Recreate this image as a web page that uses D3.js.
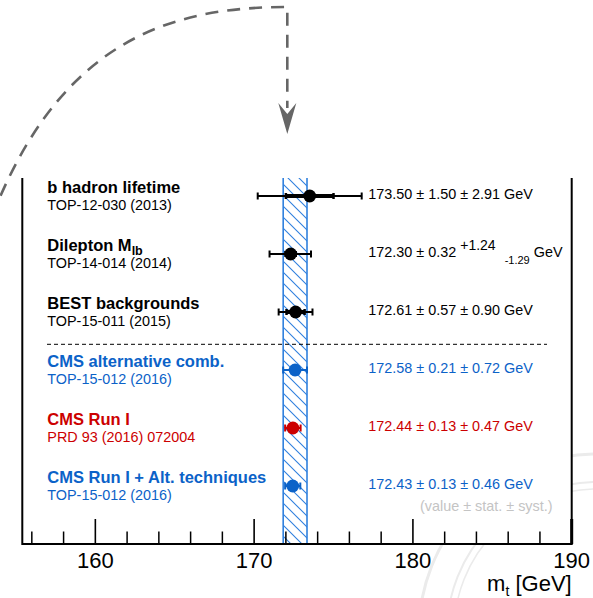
<!DOCTYPE html>
<html><head><meta charset="utf-8">
<script src="https://cdn.jsdelivr.net/npm/d3@7"></script>
<style>html,body{margin:0;padding:0;background:#fff;} svg{display:block;font-family:"Liberation Sans",Arial,Helvetica,sans-serif;}</style>
</head><body><svg id="c" width="593" height="598"></svg>
<script>
// ---- data ----
const titles = ["b hadron lifetime", "Dilepton M", "BEST backgrounds", "CMS alternative comb.", "CMS Run I", "CMS Run I + Alt. techniques"];
const titleSubs = ["", "lb", "", "", "", ""];
const refs = ["TOP-12-030 (2013)", "TOP-14-014 (2014)", "TOP-15-011 (2015)", "TOP-15-012 (2016)", "PRD 93 (2016) 072004", "TOP-15-012 (2016)"];
const values = [173.50, 172.30, 172.61, 172.58, 172.44, 172.43];
const statErr = [1.50, 0.32, 0.57, 0.21, 0.13, 0.13];
const systUp = [2.91, 1.24, 0.90, 0.72, 0.47, 0.46];
const systDown = [2.91, 1.29, 0.90, 0.72, 0.47, 0.46];
const rowGroup = ["other", "other", "other", "cmsAlt", "cmsRun1", "cmsAlt"];
const bandIndex = 3; // band = CMS alternative comb. total uncertainty
const xDomain = [155.4, 190];
const majorTicks = [160, 170, 180, 190];
const majorTickLabels = ["160", "170", "180", "190"];
const minorTicks = [156, 158, 162, 164, 166, 168, 172, 174, 176, 178, 182, 184, 186, 188];

(function () {
// ---- styles ----
const colorOf = {other: "#000000", cmsAlt: "#0b62c8", cmsRun1: "#cc0000"};
const bandColor = "#2f80de";

const svg = d3.select("#c");
const pL = 22.3, pR = 571.7, pT = 178, pB = 544;
const x = d3.scaleLinear().domain(xDomain).range([pL, pR]);
const y = d3.scalePoint().domain(d3.range(titles.length)).range([196, 486]);

// watermark seal (faint), hidden behind plot area
const wm = svg.append("g").attr("fill", "none").attr("stroke", "#ebebeb");
wm.append("circle").attr("cx", 597).attr("cy", 632).attr("r", 178).attr("stroke-width", 3);
wm.append("circle").attr("cx", 597).attr("cy", 632).attr("r", 150).attr("stroke-width", 2);
wm.append("circle").attr("cx", 597).attr("cy", 632).attr("r", 143).attr("stroke-width", 1.5);
svg.append("rect").attr("x", pL).attr("y", pT).attr("width", pR - pL).attr("height", pB - pT).attr("fill", "#fff");

// hatch pattern
const defs = svg.append("defs");
const pat = defs.append("pattern").attr("id", "hatch").attr("patternUnits", "userSpaceOnUse")
  .attr("width", 11).attr("height", 11);
pat.append("path").attr("d", "M0,0 L11,11 M-5.5,5.5 L5.5,16.5 M5.5,-5.5 L16.5,5.5")
  .attr("stroke", bandColor).attr("stroke-width", 1.1);

// band
const bTot = Math.sqrt(statErr[bandIndex] ** 2 + systUp[bandIndex] ** 2);
const bv = values[bandIndex];
svg.append("rect").attr("x", x(bv - bTot)).attr("y", pT)
  .attr("width", x(bv + bTot) - x(bv - bTot)).attr("height", pB - pT)
  .attr("fill", "url(#hatch)").attr("stroke", "none");
[bv - bTot, bv + bTot].forEach(e => svg.append("line").attr("x1", x(e)).attr("x2", x(e))
  .attr("y1", pT).attr("y2", pB).attr("stroke", bandColor).attr("stroke-width", 1.6));

// frame
svg.append("path").attr("d", `M${pL},${pT} L${pL},${pB} L${pR},${pB} L${pR},${pT}`)
  .attr("stroke", "#000").attr("stroke-width", 2).attr("fill", "none");

// ticks
svg.append("g").selectAll("line").data(majorTicks).join("line")
  .attr("x1", d => x(d)).attr("x2", d => x(d)).attr("y1", pB).attr("y2", pB - 25)
  .attr("stroke", "#000").attr("stroke-width", d => d === 190 ? 3 : 1.6);
svg.append("g").selectAll("line").data(minorTicks).join("line")
  .attr("x1", d => x(d)).attr("x2", d => x(d)).attr("y1", pB).attr("y2", pB - 12.5)
  .attr("stroke", "#000").attr("stroke-width", 1.5);
svg.append("g").selectAll("text").data(majorTicks).join("text")
  .attr("x", d => x(d)).attr("y", 567.5).attr("text-anchor", "middle")
  .attr("font-size", 22).attr("fill", "#000").text((d, i) => majorTickLabels[i]);

// axis title m_t [GeV]
const at = svg.append("text").attr("x", pR).attr("y", 591).attr("text-anchor", "end")
  .attr("font-size", 22).attr("fill", "#000");
at.append("tspan").text("m");
at.append("tspan").attr("font-size", 14).attr("dy", 5).text("t");
at.append("tspan").attr("dy", -5).text(" [GeV]");

// separator
svg.append("line").attr("x1", 47).attr("x2", 547).attr("y1", 344.3).attr("y2", 344.3)
  .attr("stroke", "#000").attr("stroke-width", 1).attr("stroke-dasharray", "4,3");

// rows
titles.forEach((t, i) => {
  const c = colorOf[rowGroup[i]];
  const yy = y(i);
  const v = values[i];
  const totUp = Math.sqrt(statErr[i] ** 2 + systUp[i] ** 2);
  const totDn = Math.sqrt(statErr[i] ** 2 + systDown[i] ** 2);
  const g = svg.append("g");
  g.append("line").attr("x1", x(v - totDn)).attr("x2", x(v + totUp)).attr("y1", yy).attr("y2", yy)
    .attr("stroke", c).attr("stroke-width", 2);
  [v - totDn, v + totUp].forEach(e => g.append("line").attr("x1", x(e)).attr("x2", x(e))
    .attr("y1", yy - 3.5).attr("y2", yy + 3.5).attr("stroke", c).attr("stroke-width", 2));
  g.append("line").attr("x1", x(v - statErr[i])).attr("x2", x(v + statErr[i])).attr("y1", yy).attr("y2", yy)
    .attr("stroke", c).attr("stroke-width", 4);
  [v - statErr[i], v + statErr[i]].forEach(e => g.append("line").attr("x1", x(e)).attr("x2", x(e))
    .attr("y1", yy - 3).attr("y2", yy + 3).attr("stroke", c).attr("stroke-width", 2.5));
  g.append("circle").attr("cx", x(v)).attr("cy", yy).attr("r", 6.4).attr("fill", c);

  const tt = svg.append("text").attr("x", 47.3).attr("y", yy - 3.5).attr("font-size", 16.5)
    .attr("font-weight", "bold").attr("fill", c);
  tt.append("tspan").text(t);
  if (titleSubs[i]) tt.append("tspan").attr("font-size", 12.5).attr("dy", 4).text(titleSubs[i]);
  svg.append("text").attr("x", 47.3).attr("y", yy + 13.5).attr("font-size", 14.4).attr("fill", c).text(refs[i]);

  const vt = svg.append("text").attr("x", 368.3).attr("y", yy + 2.5).attr("font-size", 14.4).attr("fill", c);
  if (systUp[i] === systDown[i]) {
    vt.text(`${v.toFixed(2)} ± ${statErr[i].toFixed(2)} ± ${systUp[i].toFixed(2)} GeV`);
  } else {
    vt.append("tspan").text(`${v.toFixed(2)} ± ${statErr[i].toFixed(2)} `);
    vt.append("tspan").attr("font-size", 14).attr("dy", -6.5).text(`+${systUp[i].toFixed(2)}`);
    vt.append("tspan").attr("font-size", 11).attr("dx", 9).attr("dy", 13.5).text(`-${systDown[i].toFixed(2)}`);
    vt.append("tspan").attr("dy", -7).text(" GeV");
  }
});

svg.append("text").attr("x", 420).attr("y", 510.7).attr("font-size", 14.4).attr("fill", "#c4c4c4")
  .text("(value ± stat. ± syst.)");

// dashed arrow
svg.append("path").attr("d", "M-8,216 L0,197 C70,36 177,7 287.3,7 L287.3,108")
  .attr("fill", "none").attr("stroke", "#666").attr("stroke-width", 2.6).attr("stroke-dasharray", "13,9");
svg.append("path").attr("d", "M278.3,103 L287.3,134 L296.3,103 L287.3,114 Z").attr("fill", "#666");
})();
</script></body></html>
